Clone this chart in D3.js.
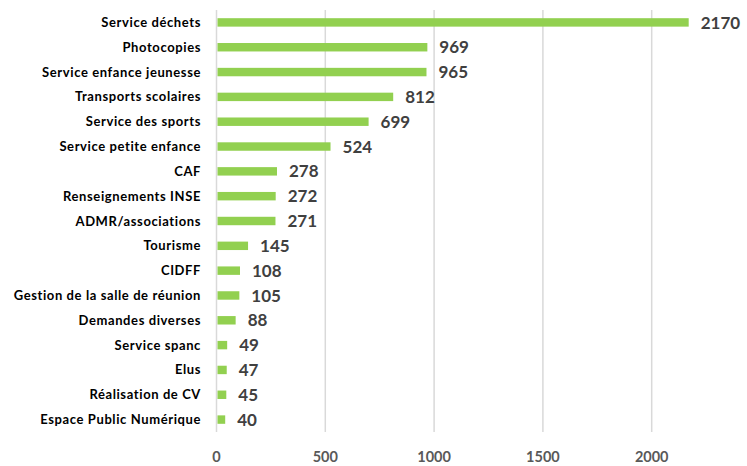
<!DOCTYPE html>
<html><head><meta charset="utf-8">
<script src="https://cdn.jsdelivr.net/npm/d3@7"></script>
<style>body{margin:0;background:#fff}</style></head>
<body><svg id="c" width="747" height="466"></svg>
<script>
const categories = ["Service déchets","Photocopies","Service enfance jeunesse","Transports scolaires","Service des sports","Service petite enfance","CAF","Renseignements INSE","ADMR/associations","Tourisme","CIDFF","Gestion de la salle de réunion","Demandes diverses","Service spanc","Elus","Réalisation de CV","Espace Public Numérique"];
const values = [2170,969,965,812,699,524,278,272,271,145,108,105,88,49,47,45,40];
const ticks = [0,500,1000,1500,2000];

const svg = d3.select("#c");
const x = d3.scaleLinear().domain([0,2000]).range([216.5,651.7]);
const y = d3.scaleBand().domain(categories).range([10,432]).paddingInner(0.66).paddingOuter(0.33);

svg.append("g").selectAll("line").data(ticks).join("line")
  .attr("x1",d=>x(d)).attr("x2",d=>x(d)).attr("y1",10).attr("y2",432)
  .attr("stroke","#d9d9d9").attr("stroke-width",1.5);

svg.append("g").selectAll("text").data(ticks).join("text")
  .attr("x",d=>x(d)).attr("y",457).attr("dy","0.35em").attr("text-anchor","middle")
  .attr("font-family","Lato, 'Open Sans', sans-serif").attr("font-weight","bold").attr("font-size",14.5)
  .attr("fill","#595959").text(d=>d);

svg.append("g").selectAll("rect").data(values).join("rect")
  .attr("x",x(0)+1).attr("y",(d,i)=>y(categories[i]))
  .attr("width",d=>x(d)-x(0)-1).attr("height",y.bandwidth())
  .attr("fill","#92D050");

svg.append("g").selectAll("text").data(values).join("text")
  .attr("x",d=>x(d)+12).attr("y",(d,i)=>y(categories[i])+y.bandwidth()/2).attr("dy","0.36em")
  .attr("font-family","Lato, 'Open Sans', sans-serif").attr("font-weight","bold").attr("font-size",17)
  .attr("fill","#404040").text(d=>d);

svg.append("g").selectAll("text").data(categories).join("text")
  .attr("x",201).attr("y",d=>y(d)+y.bandwidth()/2).attr("dy","0.35em").attr("text-anchor","end")
  .attr("font-family","Lato, 'Open Sans', sans-serif").attr("font-weight","bold").attr("font-size",13)
  .attr("letter-spacing",0.6)
  .attr("fill","#000").text(d=>d);
</script></body></html>
